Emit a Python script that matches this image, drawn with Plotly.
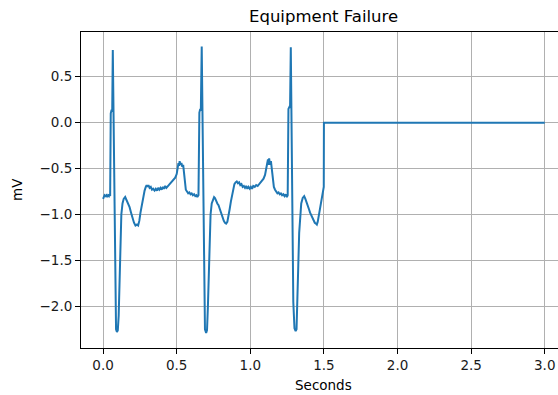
import plotly.graph_objects as go

# ECG trace (seconds, millivolts): three beats, then the lead drops to a flat 0 mV
time_s = [
    0.000, 0.004, 0.010, 0.016, 0.022, 0.028, 0.034, 0.040, 0.044, 0.048,
    0.052, 0.058, 0.062, 0.066, 0.074, 0.082, 0.088, 0.094, 0.100, 0.106,
    0.112, 0.118, 0.124, 0.132, 0.140, 0.150, 0.156, 0.164, 0.172, 0.180,
    0.190, 0.200, 0.210, 0.220, 0.230, 0.238, 0.246, 0.254, 0.262, 0.272,
    0.282, 0.290, 0.296, 0.302, 0.308, 0.316, 0.324, 0.332, 0.340, 0.350,
    0.358, 0.366, 0.374, 0.382, 0.390, 0.398, 0.406, 0.414, 0.422, 0.430,
    0.440, 0.450, 0.460, 0.470, 0.480, 0.490, 0.500, 0.506, 0.512, 0.516,
    0.520, 0.526, 0.532, 0.538, 0.544, 0.550, 0.556, 0.562, 0.570, 0.578,
    0.586, 0.594, 0.602, 0.610, 0.618, 0.626, 0.634, 0.640, 0.648,
    # beat 2
    0.654, 0.660, 0.664, 0.670, 0.678, 0.686, 0.692, 0.700, 0.706, 0.712,
    0.718, 0.724, 0.730, 0.738, 0.746, 0.754, 0.760, 0.768, 0.776, 0.784,
    0.792, 0.800, 0.810, 0.820, 0.828, 0.836, 0.844, 0.852, 0.860, 0.868,
    0.876, 0.884, 0.892, 0.900, 0.908, 0.916, 0.924, 0.932, 0.940, 0.948,
    0.956, 0.964, 0.972, 0.980, 0.988, 0.996, 1.004, 1.012, 1.020, 1.030,
    1.040, 1.050, 1.060, 1.070, 1.080, 1.090, 1.100, 1.108, 1.114, 1.120,
    1.124, 1.128, 1.134, 1.140, 1.146, 1.152, 1.160, 1.168, 1.176, 1.184,
    1.192, 1.200, 1.208, 1.216, 1.224, 1.232, 1.240, 1.248, 1.254,
    # beat 3
    1.259, 1.265, 1.270, 1.275, 1.283, 1.292, 1.300, 1.308, 1.314, 1.320,
    1.326, 1.332, 1.338, 1.346, 1.356, 1.366, 1.374, 1.382, 1.390, 1.398,
    1.406, 1.414, 1.422, 1.430, 1.438, 1.446, 1.452, 1.458, 1.464, 1.470,
    1.476, 1.482, 1.488, 1.494, 1.499,
    # equipment failure: flat line
    1.500, 3.000,
]

voltage_mv = [
    -0.83, -0.80, -0.79, -0.80, -0.79, -0.81, -0.79, -0.80, -0.78, -0.80,
    0.10, 0.14, 0.12, 0.79, -0.60, -1.90, -2.25, -2.28, -2.26, -2.10,
    -1.60, -1.20, -1.00, -0.88, -0.83, -0.81, -0.83, -0.86, -0.89, -0.92,
    -0.98, -1.04, -1.09, -1.12, -1.11, -1.12, -1.07, -0.98, -0.90, -0.82,
    -0.74, -0.70, -0.68, -0.70, -0.68, -0.71, -0.70, -0.73, -0.72, -0.74,
    -0.72, -0.74, -0.71, -0.73, -0.71, -0.73, -0.70, -0.72, -0.69, -0.71,
    -0.69, -0.68, -0.66, -0.64, -0.62, -0.60, -0.56, -0.50, -0.44, -0.47,
    -0.42, -0.46, -0.44, -0.48, -0.46, -0.55, -0.68, -0.73, -0.75, -0.77,
    -0.76, -0.78, -0.77, -0.79, -0.78, -0.80, -0.79, -0.81, -0.79,
    # beat 2
    0.11, 0.15, 0.13, 0.83, -0.60, -1.95, -2.25, -2.29, -2.26, -2.00,
    -1.55, -1.20, -1.00, -0.88, -0.83, -0.81, -0.82, -0.86, -0.88, -0.90,
    -0.94, -0.98, -1.04, -1.07, -1.09, -1.10, -1.08, -1.02, -0.94, -0.86,
    -0.78, -0.71, -0.67, -0.65, -0.64, -0.66, -0.65, -0.68, -0.67, -0.70,
    -0.69, -0.71, -0.69, -0.72, -0.70, -0.72, -0.70, -0.72, -0.69, -0.70,
    -0.68, -0.69, -0.67, -0.66, -0.64, -0.61, -0.57, -0.52, -0.45, -0.40,
    -0.46, -0.39, -0.46, -0.42, -0.50, -0.62, -0.70, -0.73, -0.75, -0.77,
    -0.76, -0.78, -0.77, -0.79, -0.78, -0.80, -0.78, -0.81, -0.79,
    # beat 3
    0.15, 0.17, 0.16, 0.82, -0.60, -1.95, -2.24, -2.27, -2.25, -2.00,
    -1.55, -1.20, -1.00, -0.88, -0.82, -0.80, -0.83, -0.86, -0.90, -0.94,
    -0.98, -1.01, -1.04, -1.06, -1.09, -1.10, -1.11, -1.08, -1.03, -0.98,
    -0.93, -0.88, -0.82, -0.76, -0.70,
    # flat line
    0.00, 0.00,
]

x_ticks = [0.0, 0.5, 1.0, 1.5, 2.0, 2.5, 3.0]
y_ticks = [-2.0, -1.5, -1.0, -0.5, 0.0, 0.5]

FONT = "DejaVu Sans"

fig = go.Figure(
    go.Scatter(
        x=time_s,
        y=voltage_mv,
        mode="lines",
        line=dict(color="#1f77b4", width=2),
        hoverinfo="skip",
    )
)

axis_common = dict(
    showgrid=True,
    gridcolor="#b0b0b0",
    gridwidth=1,
    zeroline=False,
    showline=True,
    linecolor="black",
    linewidth=1,
    ticks="outside",
    ticklen=5,
    tickwidth=1,
    tickcolor="black",
    tickfont=dict(family=FONT, size=13.5, color="#1a1a1a"),
)

fig.update_xaxes(
    range=[-0.15, 3.09],
    tickvals=x_ticks,
    ticktext=[f"{v:.1f}" for v in x_ticks],
    mirror=True,
    **axis_common,
)
fig.update_yaxes(
    range=[-2.454, 0.987],
    tickvals=y_ticks,
    ticktext=[f"{v:.1f}".replace("-", "\u2212") for v in y_ticks],
    mirror=False,
    **axis_common,
)

fig.update_layout(
    width=558,
    height=395,
    margin=dict(l=81, r=0, t=32, b=47),
    plot_bgcolor="white",
    paper_bgcolor="white",
    showlegend=False,
    annotations=[
        dict(text="Equipment Failure", x=0.5094, y=1.0, xref="paper", yref="paper",
             xanchor="center", yanchor="bottom", yshift=4, showarrow=False,
             font=dict(family=FONT, size=16.5, color="black")),
        dict(text="Seconds", x=0.5094, y=0, xref="paper", yref="paper",
             xanchor="center", yanchor="top", yshift=-27, showarrow=False,
             font=dict(family=FONT, size=13.5, color="black")),
        dict(text="mV", x=0, y=0.5, xref="paper", yref="paper",
             xanchor="right", yanchor="middle", xshift=-54, showarrow=False,
             textangle=-90, font=dict(family=FONT, size=13.5, color="black")),
    ],
)

fig.write_html("out.html")
